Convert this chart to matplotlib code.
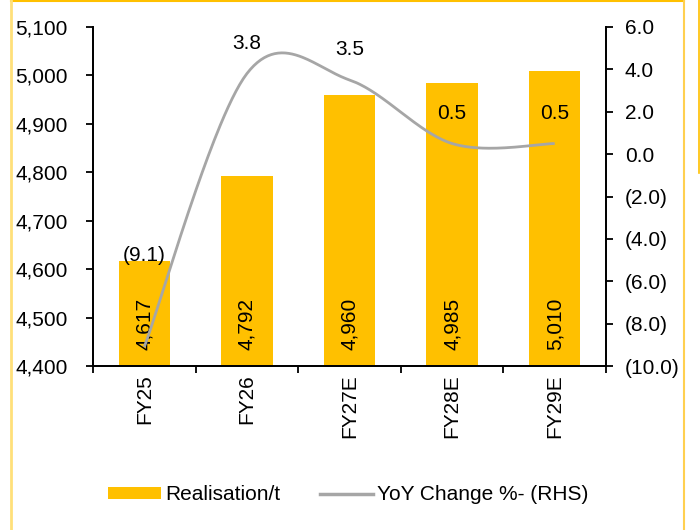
import matplotlib
matplotlib.use("Agg")
import matplotlib.pyplot as plt
import numpy as np
from matplotlib.lines import Line2D
from matplotlib.patches import Patch
from matplotlib.ticker import FuncFormatter, MultipleLocator

categories = ["FY25", "FY26", "FY27E", "FY28E", "FY29E"]
realisation = [4617, 4792, 4960, 4985, 5010]
yoy = [-9.1, 3.8, 3.5, 0.5, 0.5]

plt.rcParams['font.family'] = ['Liberation Sans', 'DejaVu Sans']
FS = 15
BAR = "#FFC000"
LINE = "#A6A6A6"

W, H = 700, 530
fig = plt.figure(figsize=(W / 100, H / 100), dpi=100)
ax = fig.add_axes([93 / W, 1 - 366 / H, 513 / W, 339 / H])
ax2 = ax.twinx()

x = np.arange(len(categories))
ax.bar(x, realisation, width=0.5, color=BAR, zorder=2)
ax.set_ylim(4400, 5100)
ax.set_xlim(-0.5, len(categories) - 0.5)
ax.yaxis.set_major_locator(MultipleLocator(100))
ax.yaxis.set_major_formatter(FuncFormatter(lambda v, p: f"{int(round(v)):,}"))

for xi, v in zip(x, realisation):
    ax.text(xi, 4400 + 16 * 700 / 339, f"{v:,}", rotation=90, ha="center", va="bottom",
            fontsize=FS, zorder=5)

# smoothed line (Catmull-Rom style Bezier like Excel)
pts = np.column_stack([x.astype(float), np.array(yoy, dtype=float)])
n = len(pts)
curve = []
for i in range(n - 1):
    p0 = pts[max(i - 1, 0)]
    p1 = pts[i]
    p2 = pts[i + 1]
    p3 = pts[min(i + 2, n - 1)]
    c1 = p1 + (p2 - p0) / 6
    c2 = p2 - (p3 - p1) / 6
    t = np.linspace(0, 1, 60)[:, None]
    seg = (1 - t) ** 3 * p1 + 3 * (1 - t) ** 2 * t * c1 + 3 * (1 - t) * t ** 2 * c2 + t ** 3 * p2
    curve.append(seg if i == 0 else seg[1:])
curve = np.vstack(curve)
ax2.plot(curve[:, 0], curve[:, 1], color=LINE, lw=2.0, zorder=3, solid_capstyle="butt")
ax2.set_ylim(-10, 6)
ax2.yaxis.set_major_locator(MultipleLocator(2))


def fmt_r(v, p):
    return f"({abs(v):.1f})" if v < -1e-9 else f"{abs(v):.1f}"


ax2.yaxis.set_major_formatter(FuncFormatter(fmt_r))

offsets = [91, 30, 30, 30, 30]
for xi, v, off in zip(x, yoy, offsets):
    ax2.annotate(fmt_r(v, None), (xi, v), xytext=(0, off * 0.72), textcoords="offset points",
                 ha="center", va="center", fontsize=FS, zorder=6)

# axes styling
for a in (ax, ax2):
    a.spines["top"].set_visible(False)
    for s in ("left", "right", "bottom"):
        a.spines[s].set_linewidth(1.3)
        a.spines[s].set_color("black")
ax.set_xticks(x)
ax.set_xticklabels(categories, rotation=90, fontsize=FS)
ax.tick_params(axis="x", which="major", length=0, pad=6)
ax.set_xticks(np.arange(-0.5, len(categories), 1), minor=True)
ax.tick_params(axis="x", which="minor", length=5, width=1.3, direction="out")
ax.tick_params(axis="y", labelsize=FS, length=5, width=1.3, direction="out", pad=13)
ax2.tick_params(axis="y", labelsize=FS, length=5, width=1.3, direction="out", pad=8.5)

handles = [Patch(facecolor=BAR, edgecolor="none"), Line2D([], [], color=LINE, lw=2.5)]
fig.legend(handles, ["Realisation/t", "YoY Change %- (RHS)"], loc="center",
           bbox_to_anchor=(348 / W, 1 - 495 / H), ncol=2, frameon=False, fontsize=FS,
           handlelength=2.55, handleheight=0.5, handletextpad=0.2, columnspacing=1.9)

# frame
def fl(xs, ys, c, lw=1.5):
    fig.add_artist(Line2D([v / W for v in xs], [1 - v / H for v in ys], color=c, lw=lw,
                          transform=fig.transFigure))

fl([10.5, 683.5], [0.7, 0.7], "#FFC000", 1.5)
fl([10.5, 10.5], [0, 530], "#FFE07A", 2.0)
fl([683.5, 683.5], [0, 530], "#FFD050", 1.5)
fl([698.5, 698.5], [0, 173], "#FFC000", 1.2)

fig.savefig("out.png", dpi=100)
